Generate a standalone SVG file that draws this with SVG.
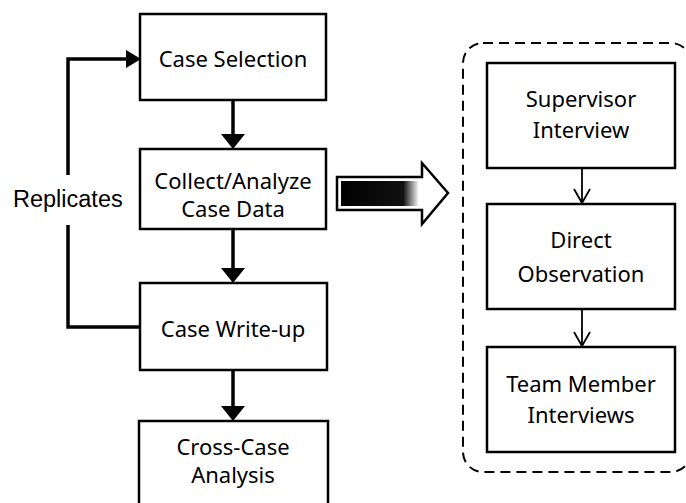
<svg xmlns="http://www.w3.org/2000/svg" width="686" height="503" viewBox="0 0 686 503">
<defs>
<style>
.box{fill:#fff;stroke:#000;stroke-width:2.5}
.t{font-family:"Noto Sans","Open Sans",sans-serif;font-size:22px;fill:#000;text-anchor:middle}
.lbl{font-family:"Liberation Sans",Arial,sans-serif;font-size:23.5px;fill:#000}
.thick{fill:none;stroke:#000;stroke-width:3.5}
.thin{fill:none;stroke:#000;stroke-width:1.8}
</style>
<marker id="open" viewBox="0 0 16 20" refX="15" refY="10" markerWidth="16" markerHeight="20" markerUnits="userSpaceOnUse" orient="auto">
<path d="M1,2 L15,10 L1,18" fill="none" stroke="#000" stroke-width="1.8"/>
</marker>
<linearGradient id="fade" x1="0" y1="0" x2="1" y2="0">
<stop offset="0" stop-color="#000"/>
<stop offset="0.8" stop-color="#111"/>
<stop offset="1" stop-color="#fff"/>
</linearGradient>
</defs>

<g id="connectors">
<line class="thick" x1="233" y1="100" x2="233" y2="134"/>
<path d="M221,134 L245,134 L233,149 Z" fill="#000"/>
<line class="thick" x1="233" y1="229" x2="233" y2="268"/>
<path d="M221,268 L245,268 L233,283 Z" fill="#000"/>
<line class="thick" x1="233" y1="370" x2="233" y2="406"/>
<path d="M221,406 L245,406 L233,421 Z" fill="#000"/>
<path class="thick" d="M140,327 L68,327 L68,225"/>
<path class="thick" d="M68,175 L68,59 L126,59"/>
<path d="M126,50 L141,59 L126,68 Z" fill="#000"/>
<line class="thin" x1="582" y1="168" x2="582" y2="203" marker-end="url(#open)"/>
<line class="thin" x1="582" y1="309" x2="582" y2="346" marker-end="url(#open)"/>
</g>

<g id="replicates-label">
<text class="lbl" x="13" y="207">Replicates</text>
</g>

<g id="block-arrow">
<path d="M337,177 L422,177 L422,163 L448,193 L422,224 L422,210 L337,210 Z" fill="#fff" stroke="#000" stroke-width="2.5"/>
<rect x="341" y="181" width="78" height="25" fill="url(#fade)"/>
</g>

<g id="group-box">
<rect x="463" y="43" width="228" height="429" rx="20" ry="20" fill="none" stroke="#000" stroke-width="2" stroke-dasharray="10,6"/>
</g>

<g id="case-selection">
<rect class="box" x="140" y="14" width="186" height="86"/>
<text class="t" x="233" y="67">Case Selection</text>
</g>
<g id="collect-analyze">
<rect class="box" x="140" y="149" width="186" height="80"/>
<text class="t" x="233" y="189">Collect/Analyze</text>
<text class="t" x="233" y="217">Case Data</text>
</g>
<g id="case-writeup">
<rect class="box" x="140" y="283" width="187" height="87"/>
<text class="t" x="233" y="337">Case Write-up</text>
</g>
<g id="cross-case">
<rect class="box" x="139" y="421" width="189" height="90"/>
<text class="t" x="233" y="455">Cross-Case</text>
<text class="t" x="233" y="483">Analysis</text>
</g>

<g id="supervisor-interview">
<rect class="box" x="487" y="63" width="188" height="105"/>
<text class="t" x="581" y="107">Supervisor</text>
<text class="t" x="581" y="138">Interview</text>
</g>
<g id="direct-observation">
<rect class="box" x="487" y="204" width="188" height="105"/>
<text class="t" x="581" y="248">Direct</text>
<text class="t" x="581" y="282">Observation</text>
</g>
<g id="team-member">
<rect class="box" x="487" y="347" width="188" height="105"/>
<text class="t" x="581" y="392">Team Member</text>
<text class="t" x="581" y="423">Interviews</text>
</g>
</svg>
